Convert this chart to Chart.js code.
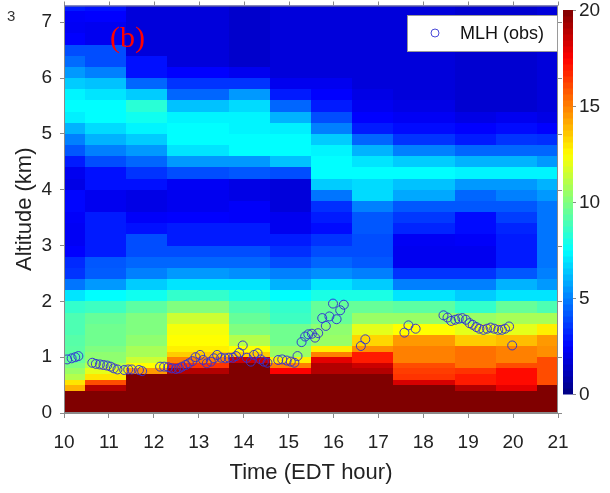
<!DOCTYPE html>
<html>
<head>
<meta charset="utf-8">
<script src="https://cdn.jsdelivr.net/npm/chart.js@4.4.1/dist/chart.umd.min.js"></script>
<style>
  html, body { margin: 0; padding: 0; background: #fff; }
  canvas { display: block; }
</style>
</head>
<body>
<canvas id="myChart" width="610" height="493"></canvas>
<script>
// axis ticks
var timeTicks = [10, 11, 12, 13, 14, 15, 16, 17, 18, 19, 20, 21];
var altTicks = [0, 1, 2, 3, 4, 5, 6, 7];
var cbTicks = [0, 5, 10, 15, 20];
var cbMax = 20;

// heatmap cells: column edges (hour) and row edges (km)
var timeEdges = [10, 10.47, 11.38, 12.29, 13.67, 14.59, 15.5, 16.41, 17.33, 18.71, 19.62, 20.53, 21];
var altEdges = [0, 0.1, 0.2, 0.3, 0.4, 0.5, 0.6, 0.7, 0.8, 0.9, 1.0, 1.1, 1.2, 1.4, 1.6, 1.8, 2.0, 2.2, 2.4, 2.6, 2.8,
  3.0, 3.2, 3.4, 3.6, 3.8, 4.0, 4.2, 4.4, 4.6, 4.8, 5.0, 5.2, 5.4, 5.6, 5.8, 6.0, 6.2, 6.4, 6.6, 6.8, 7.0, 7.2, 7.4];

// values per column, bottom to top
var col1 = [24, 24, 24, 24, 14, 13, 11, 10.5, 10, 9.5, 9.3, 9.3, 9.2, 9, 9, 8.5, 7, 4.8, 3.5, 3.3, 2.5, 2.3, 2.3, 2.4, 2.6, 2.6, 2, 2.2, 3, 4.2, 5, 6, 7.2, 7.5, 7.3, 6.5, 5.5, 4.6, 4, 2.5, 2.3, 2.4, 3];
var col2 = [24, 24, 24, 24, 19, 16, 13, 12, 11, 10.3, 10.3, 10, 9.7, 9.7, 9.5, 8.7, 7.5, 5.5, 4.3, 4.2, 3, 3, 3, 3, 2.2, 2.2, 2.8, 2.8, 4, 5, 6, 6.8, 7.5, 7.5, 7, 6.3, 5, 4, 4, 2.2, 2.2, 2.5, 2.8];
var col3 = [24, 24, 24, 24, 24, 24, 24, 14.5, 12.5, 11.5, 10.8, 10.8, 10.3, 10, 10, 9.3, 7.8, 6.5, 5, 4.5, 4, 4, 2.8, 2.4, 2, 2, 2.8, 3.5, 4.5, 5.5, 6.5, 7.3, 7.8, 8.3, 6.5, 4.5, 2.8, 2.8, 1.8, 1.8, 1.8, 1.8, 1.8];
var col4 = [24, 24, 24, 24, 24, 24, 24, 19, 16.5, 15, 13.5, 12.8, 12.5, 12.3, 11.5, 10, 8.5, 7, 5.5, 4.5, 4, 3, 3, 2.5, 2.2, 2.2, 2.3, 4, 5.5, 7, 7.5, 7.5, 7.3, 6.3, 4.5, 3.5, 2.5, 1.8, 1.8, 1.8, 1.8, 1.8, 1.8];
var col5 = [24, 24, 24, 24, 24, 24, 24, 24, 24, 18.5, 13.5, 12.5, 11, 10, 9.5, 9, 8, 7, 5.3, 4.5, 4, 3, 3, 2.4, 2.4, 2, 2, 4.2, 5.5, 7.5, 7.5, 7.3, 7.3, 6.8, 5.5, 3.5, 2.2, 1.5, 1.5, 1.5, 1.5, 1.5, 1.5];
var col6 = [24, 24, 24, 24, 24, 24, 22, 17.5, 15, 12.8, 10.5, 10.5, 9.7, 9.7, 8.7, 8.5, 7.5, 6, 5, 4, 3.4, 3, 2.2, 2.2, 1.8, 1.8, 1.8, 4, 6.3, 7.5, 7.5, 7.2, 6, 4.5, 3, 2.2, 1.8, 1.8, 1.8, 1.8, 1.8, 1.8, 1.8];
var col7 = [24, 24, 24, 24, 24, 24, 22, 19, 19, 18, 15, 12.8, 10.5, 10.3, 9.5, 9.5, 8, 7, 5.3, 4.5, 4, 3.5, 2.7, 3, 3.4, 4.8, 6.5, 7.5, 7.5, 7.3, 6.5, 5, 4, 3, 2.5, 2.2, 1.8, 1.8, 1.8, 1.8, 1.8, 1.8, 1.8];
var col8 = [24, 24, 24, 24, 24, 24, 22, 19, 18.5, 17, 17, 14.7, 13.3, 12, 10.5, 9.5, 8, 6.5, 5, 4.2, 4, 4, 4.2, 4.2, 5, 6.8, 6.8, 7.5, 7, 6, 4.5, 3, 2.5, 2.2, 2, 1.8, 1.8, 1.8, 1.8, 1.8, 1.8, 1.8, 1.8];
var col9 = [24, 24, 24, 24, 24, 18.3, 16.5, 16.3, 16, 15, 15, 15, 14.5, 12.5, 10.5, 9.3, 7, 5, 3.5, 2.2, 2.2, 2.3, 3.2, 3.6, 4.2, 5.8, 6.3, 7.5, 6.5, 5, 3.5, 2.7, 2.3, 2, 1.8, 1.8, 1.8, 1.8, 1.8, 1.8, 1.8, 1.8, 1.8];
var col10 = [24, 24, 24, 24, 19, 17, 17, 16.5, 15.3, 15.3, 15.3, 15.3, 13.5, 12, 10.5, 8.5, 6.5, 5, 3.5, 2.2, 2.2, 2.4, 2.7, 2.7, 4.2, 4.5, 5.5, 7.3, 6, 4.5, 3, 2.5, 2, 1.6, 1.6, 1.6, 1.6, 1.6, 1.6, 1.6, 1.6, 1.6, 1.6];
var col11 = [24, 24, 24, 24, 18, 17.3, 17.3, 17.3, 16, 15, 15, 15, 13.8, 12, 10.8, 9.5, 7, 6, 4.2, 3, 3, 3, 3.2, 3.7, 4.2, 5, 5.5, 7.3, 6, 4.5, 3.5, 2.7, 2.2, 1.6, 1.6, 1.6, 1.6, 1.6, 1.6, 1.6, 1.6, 1.6, 1.6];
var col12 = [24, 24, 24, 24, 24, 16, 16, 16, 16, 16, 14.7, 14.7, 14.5, 12.8, 10.8, 9, 7, 5.5, 5, 4.8, 4.8, 4.8, 4.8, 4.8, 4.8, 5.5, 6, 7.3, 5.5, 4.5, 3.4, 2.5, 2, 1.8, 1.8, 1.8, 1.8, 1.8, 1.8, 1.8, 1.8, 1.8, 1.8];
var cols = [col1, col2, col3, col4, col5, col6, col7, col8, col9, col10, col11, col12];

// observed mixing layer height
var mlhTime = [10.07, 10.17, 10.25, 10.32, 10.63, 10.71, 10.8, 10.88, 10.96, 11.04, 11.11, 11.19, 11.34, 11.43, 11.51, 11.67, 11.74,
  12.14, 12.23, 12.32, 12.4, 12.49, 12.56, 12.63, 12.71, 12.78, 12.86, 12.93, 13.03, 13.1, 13.18, 13.27, 13.34, 13.41, 13.5, 13.59,
  13.67, 13.76, 13.83, 13.9, 13.98, 14.07, 14.16, 14.23, 14.31, 14.38, 14.45, 14.53, 14.77, 14.86, 14.96, 15.05, 15.13, 15.2,
  15.29, 15.37, 15.44, 15.52, 15.59, 15.66, 15.75, 15.83, 15.91, 15.99, 16.07, 16.15, 16.23, 16.61, 16.71, 17.58, 17.67, 17.83,
  18.45, 18.54, 18.62, 18.71, 18.79, 18.87, 18.95, 19.03, 19.1, 19.18, 19.25, 19.34, 19.42, 19.5, 19.58, 19.67, 19.75, 19.82, 19.91, 19.98];
var mlhAlt = [0.96, 0.98, 1.0, 1.02, 0.9, 0.88, 0.87, 0.86, 0.85, 0.83, 0.8, 0.78, 0.77, 0.78, 0.78, 0.77, 0.75,
  0.83, 0.83, 0.82, 0.8, 0.79, 0.8, 0.83, 0.86, 0.89, 0.93, 1.0, 1.04, 0.95, 0.89, 0.92, 0.98, 1.04, 0.99, 0.98,
  0.99, 0.99, 1.02, 1.08, 1.21, 0.99, 0.92, 1.04, 1.07, 0.96, 0.92, 0.9, 0.95, 0.96, 0.94, 0.92, 0.9, 1.02,
  1.27, 1.37, 1.41, 1.42, 1.35, 1.43, 1.7, 1.56, 1.73, 1.96, 1.68, 1.84, 1.94, 1.2, 1.32, 1.44, 1.57, 1.51,
  1.75, 1.71, 1.65, 1.67, 1.69, 1.7, 1.67, 1.61, 1.58, 1.54, 1.51, 1.49, 1.51, 1.53, 1.51, 1.49, 1.49, 1.51, 1.55, 1.21];

var FONT = "'Liberation Sans', Arial, sans-serif";
var SERIF = "'Liberation Serif', 'DejaVu Serif', serif";
var AXIS = '#8a8a8a';

function jet(v) {
  var t = Math.max(0, Math.min(1, v / cbMax));
  var c = function (k) { return Math.round(255 * Math.max(0, Math.min(1, 1.5 - Math.abs(4 * t - k)))); };
  return 'rgb(' + c(3) + ',' + c(2) + ',' + c(1) + ')';
}

// heatmap under the points
var heatmap = {
  id: 'heatmap',
  beforeDatasetsDraw: function (chart) {
    var ctx = chart.ctx, a = chart.chartArea, x = chart.scales.x, y = chart.scales.y;
    ctx.save();
    ctx.beginPath();
    ctx.rect(a.left, a.top, a.right - a.left, a.bottom - a.top);
    ctx.clip();
    cols.forEach(function (col, i) {
      var x0 = Math.round(x.getPixelForValue(timeEdges[i]));
      var x1 = Math.round(x.getPixelForValue(timeEdges[i + 1]));
      col.forEach(function (v, j) {
        var y0 = Math.round(y.getPixelForValue(altEdges[j]));
        var y1 = Math.round(y.getPixelForValue(altEdges[j + 1]));
        ctx.fillStyle = jet(v);
        ctx.fillRect(x0, y1, x1 - x0, y0 - y1);
      });
    });
    ctx.restore();
  }
};

// box, top/right ticks, colorbar, legend, panel label
var extras = {
  id: 'extras',
  afterDatasetsDraw: function (chart) {
    var ctx = chart.ctx, a = chart.chartArea, x = chart.scales.x, y = chart.scales.y;
    ctx.save();
    ctx.strokeStyle = AXIS;
    ctx.lineWidth = 1;
    ctx.strokeRect(a.left + 0.5, a.top + 0.5, a.right - a.left - 1, a.bottom - a.top - 1);
    ctx.beginPath();
    timeTicks.forEach(function (t) {
      var px = Math.round(x.getPixelForValue(t)) + 0.5;
      ctx.moveTo(px, a.top);
      ctx.lineTo(px, a.top - 4);
    });
    altTicks.forEach(function (v) {
      var py = Math.round(y.getPixelForValue(v)) + 0.5;
      ctx.moveTo(a.right, py);
      ctx.lineTo(a.right + 4, py);
    });
    ctx.stroke();
    ctx.restore();
  },
  afterDraw: function (chart) {
    var ctx = chart.ctx, a = chart.chartArea;
    ctx.save();

    // colorbar
    var cbL = a.right + 5, cbW = 10, cbTop = 10, cbBot = 394;
    var n = 64, h = (cbBot - cbTop) / n;
    for (var k = 0; k < n; k++) {
      ctx.fillStyle = jet((k + 0.5) / n * cbMax);
      ctx.fillRect(cbL, cbBot - (k + 1) * h, cbW, h + 0.5);
    }
    ctx.strokeStyle = AXIS;
    ctx.beginPath();
    ctx.font = '19px ' + FONT;
    ctx.fillStyle = '#222';
    ctx.textAlign = 'left';
    ctx.textBaseline = 'middle';
    cbTicks.forEach(function (v) {
      var py = cbBot - (v / cbMax) * (cbBot - cbTop);
      ctx.moveTo(cbL + cbW, Math.round(py) + 0.5);
      ctx.lineTo(cbL + cbW + 3, Math.round(py) + 0.5);
      ctx.fillText(String(v), cbL + cbW + 6, py + 1);
    });
    ctx.stroke();

    // legend
    var lx = 407, ly = 15, lw = a.right - 1 - lx, lh = 36;
    ctx.fillStyle = '#fff';
    ctx.fillRect(lx, ly, lw, lh);
    ctx.strokeStyle = '#9a9a9a';
    ctx.strokeRect(lx + 0.5, ly + 0.5, lw, lh);
    ctx.beginPath();
    ctx.arc(435, ly + lh / 2, 4, 0, Math.PI * 2);
    ctx.strokeStyle = '#4a4ad8';
    ctx.stroke();
    ctx.fillStyle = '#111';
    ctx.font = '18px ' + FONT;
    ctx.textBaseline = 'middle';
    ctx.fillText('MLH (obs)', 460, ly + lh / 2 + 1);

    // panel label
    ctx.fillStyle = '#ff0000';
    ctx.font = '30px ' + SERIF;
    ctx.textBaseline = 'alphabetic';
    ctx.fillText('(b)', 110, 47);

    ctx.fillStyle = '#333';
    ctx.font = '15px ' + FONT;
    ctx.fillText('3', 7, 21);
    ctx.restore();
  }
};

function draw() {
  new Chart(
    document.getElementById('myChart').getContext('2d'), {
      type: 'scatter',
      data: {
        datasets: [{
          label: 'MLH (obs)',
          data: mlhTime.map(function (t, i) { return { x: t, y: mlhAlt[i] }; }),
          pointStyle: 'circle',
          pointRadius: 4.5,
          borderWidth: 1,
          borderColor: 'rgba(50, 50, 210, 0.95)',
          backgroundColor: 'rgba(0, 0, 0, 0)'
        }]
      },
      options: {
        responsive: false,
        animation: false,
        layout: { padding: { top: 4, right: 52, left: 0, bottom: 0 } },
        scales: {
          x: {
            type: 'linear',
            min: 10,
            max: 21,
            afterBuildTicks: function (s) { s.ticks = timeTicks.map(function (v) { return { value: v }; }); },
            afterFit: function (s) { s.height = 80; s.paddingLeft = 0; s.paddingRight = 0; },
            ticks: { font: { size: 19, family: FONT }, color: '#222', padding: 13, maxRotation: 0 },
            grid: { drawOnChartArea: false, tickLength: 5, color: AXIS },
            border: { color: AXIS },
            title: { display: true, text: 'Time (EDT hour)', font: { size: 22, family: FONT }, color: '#222', padding: { top: 0, bottom: 7 } }
          },
          y: {
            min: 0,
            max: 7.3,
            afterBuildTicks: function (s) { s.ticks = altTicks.map(function (v) { return { value: v }; }); },
            afterFit: function (s) { s.width = 64; s.paddingTop = 0; s.paddingBottom = 0; },
            ticks: { font: { size: 19, family: FONT }, color: '#222', padding: 8 },
            grid: { drawOnChartArea: false, tickLength: 4, color: AXIS },
            border: { color: AXIS },
            title: { display: true, text: 'Altitude (km)', font: { size: 22, family: FONT }, color: '#222', padding: { top: 12, bottom: 0 } }
          }
        },
        plugins: {
          legend: { display: false },
          tooltip: { enabled: false }
        }
      },
      plugins: [heatmap, extras]
    }
  );
}

// make sure the fonts are ready before the canvas is painted
Promise.all([
  document.fonts.load('30px ' + SERIF),
  document.fonts.load('19px ' + FONT)
]).then(draw, draw);
</script>
</body>
</html>
